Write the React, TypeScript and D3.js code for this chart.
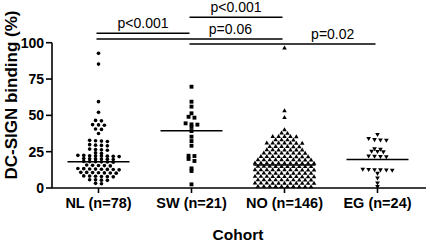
import React from "react";
import * as d3 from "d3";

const categories = ["NL (n=78)", "SW (n=21)", "NO (n=146)", "EG (n=24)"];

const nlValues = [
  92.7, 85.3, 59.4, 52.1,
  46.5, 46.2, 43.6, 43.4, 43.2, 40.6, 40.3, 37.5,
  32.8, 32.5, 32.3, 32.0, 29.8, 29.5, 29.3, 29.0,
  26.8, 26.5, 26.3, 26.0, 24.2, 23.8,
  22.5, 22.4, 22.2, 22.1, 22.0, 21.9, 21.8, 21.6,
  20.3, 20.1, 20.0, 19.9, 19.8, 19.6,
  18.3, 18.2, 18.1, 18.0, 17.9, 17.7,
  15.8, 15.6, 15.5, 15.4, 15.2,
  13.4, 13.3, 13.1, 13.0, 12.9, 12.8, 12.7, 12.5,
  10.8, 10.7, 10.6, 10.5, 10.4, 10.3, 10.2,
  8.3, 8.2, 8.1, 7.9, 7.8, 7.7,
  5.7, 5.6, 5.4, 5.3,
  3.2, 2.9,
];

const swValues = [
  69.7, 59.4, 56.0, 51.4, 49.0, 48.4, 44.5, 43.8, 43.6, 42.0, 39.2,
  35.3, 32.3, 29.1, 22.2, 22.0, 20.0, 18.6, 13.5, 11.7, 2.5,
];

const noValues = [
  96.3, 53.0, 48.4,
  40.0,
  37.7, 37.5,
  35.4, 35.3, 35.2, 35.3, 35.4,
  33.1, 33.0, 32.9, 33.0,
  30.9, 30.8, 30.7, 30.8, 30.9, 30.7, 30.8,
  28.5, 28.4, 28.3, 28.4, 28.5, 28.3,
  26.2, 26.1, 26.0, 26.1, 26.2, 26.0, 26.1,
  24.0, 23.9, 23.8, 23.9, 24.0, 23.8, 23.9, 24.0,
  21.6, 21.5, 21.4, 21.5, 21.6, 21.4, 21.5, 21.6, 21.4,
  19.4, 19.3, 19.2, 19.3, 19.4, 19.2, 19.3, 19.4, 19.2, 19.3,
  17.1, 17.0, 16.9, 17.0, 17.1, 16.9, 17.0, 17.1, 16.9, 17.0, 17.0,
  14.8, 14.7, 14.6, 14.7, 14.8, 14.6, 14.7, 14.8, 14.6, 14.7,
  12.5, 12.4, 12.3, 12.4, 12.5, 12.3, 12.4, 12.5, 12.3, 12.4, 12.4,
  10.2, 10.1, 10.0, 10.1, 10.2, 10.0, 10.1, 10.2, 10.0, 10.1,
  7.9, 7.8, 7.7, 7.8, 7.9, 7.7, 7.8, 7.9, 7.7, 7.8, 7.8,
  5.6, 5.5, 5.4, 5.5, 5.6, 5.4, 5.5, 5.6, 5.4, 5.5,
  3.3, 3.2, 3.1, 3.2, 3.3, 3.1, 3.2, 3.3, 3.1, 3.2, 3.2,
  1.0, 0.9, 0.8, 0.9, 1.0, 0.8, 0.9, 1.0, 0.8, 0.9,
];

const egValues = [
  37.0, 34.2, 33.4, 33.2, 33.0, 27.2, 26.8, 25.4, 25.2, 25.0,
  22.2, 22.0, 21.8, 21.6, 13.0, 12.8, 12.7, 12.6, 12.5, 12.4,
  10.2, 7.0, 3.6, 1.2,
];

const groupValues = [nlValues, swValues, noValues, egValues];
const centerLines = [18.1, 39.4, 15.8, 19.7];
const yTicks = [0, 25, 50, 75, 100];

const comparisonFrom = [0, 1, 0, 1];
const comparisonTo = [1, 2, 2, 3];
const comparisonLabels = ["p<0.001", "p<0.001", "p=0.06", "p=0.02"];
const comparisonLevels = [106.5, 117.5, 102.5, 99.1];
const comparisonLabelAt = [0.5, 0.5, 0.72, 0.77];

const W = 430;
const H = 244;
const M = { left: 52, right: 6, top: 42.7, bottom: 56 };
const FONT = "'Liberation Sans', Arial, Helvetica, sans-serif";

const shapes = [
  { type: d3.symbolCircle, size: 10.5, rotate: 0 },
  { type: d3.symbolSquare, size: 15, rotate: 0 },
  { type: d3.symbolTriangle, size: 9, rotate: 0 },
  { type: d3.symbolTriangle, size: 9.5, rotate: 180 },
];

function layoutRows(values: number[], y: (v: number) => number, cx: number, spacing: number) {
  const sorted = [...values].sort((a, b) => b - a);
  const rows: number[][] = [];
  let start = -Infinity;
  for (const v of sorted) {
    const py = y(v);
    if (rows.length === 0 || py - start > 2.4) {
      rows.push([v]);
      start = py;
    } else {
      rows[rows.length - 1].push(v);
    }
  }
  const pts: { x: number; y: number }[] = [];
  rows.forEach((row) => {
    const n = row.length;
    row.forEach((v, i) => {
      pts.push({ x: cx + (i - (n - 1) / 2) * spacing, y: y(v) });
    });
  });
  return pts;
}

export default function App() {
  const x = d3.scaleBand<string>().domain(categories).range([M.left, 424]).padding(0);
  const y = d3.scaleLinear().domain([0, 100]).range([188, M.top]);
  const cx = (i: number) => (x(categories[i]) as number) + x.bandwidth() / 2;

  return (
    <svg
      width={W}
      height={H}
      style={{ position: "absolute", left: 0, top: 0, background: "#fff" }}
      fontFamily={FONT}
    >
      {/* markers */}
      {groupValues.map((vals, gi) => {
        const s = shapes[gi];
        const path = d3.symbol().type(s.type).size(s.size)() as string;
        const pts = layoutRows(vals, y, cx(gi), 5.9);
        return (
          <g key={gi}>
            {pts.map((p, i) => (
              <path
                key={i}
                d={path}
                fill="#000"
                transform={`translate(${p.x},${p.y}) rotate(${s.rotate})`}
              />
            ))}
          </g>
        );
      })}

      {/* center lines */}
      {centerLines.map((v, i) => (
        <line
          key={i}
          x1={cx(i) - 31}
          x2={cx(i) + 31}
          y1={y(v)}
          y2={y(v)}
          stroke="#000"
          strokeWidth={1.5}
        />
      ))}

      {/* axes */}
      <line x1={M.left} x2={M.left} y1={y(100)} y2={y(0)} stroke="#000" strokeWidth={1.6} />
      <line x1={M.left} x2={426} y1={y(0)} y2={y(0)} stroke="#000" strokeWidth={1.6} />
      {yTicks.map((t) => (
        <g key={t}>
          <line x1={M.left - 6} x2={M.left} y1={y(t)} y2={y(t)} stroke="#000" strokeWidth={1.6} />
          <text
            x={M.left - 8}
            y={y(t)}
            dy="0.36em"
            textAnchor="end"
            fontSize={14}
            fontWeight="bold"
          >
            {t}
          </text>
        </g>
      ))}
      {categories.map((c, i) => (
        <g key={c}>
          <line x1={cx(i)} x2={cx(i)} y1={y(0)} y2={y(0) + 5} stroke="#000" strokeWidth={1.6} />
          <text x={cx(i)} y={208} textAnchor="middle" fontSize={14.5} fontWeight="bold">
            {c}
          </text>
        </g>
      ))}

      {/* axis titles */}
      <text x={238} y={240} textAnchor="middle" fontSize={15.5} fontWeight="bold">
        Cohort
      </text>
      <text
        transform={`translate(17,95) rotate(-90)`}
        textAnchor="middle"
        fontSize={17}
        fontWeight="bold"
      >
        DC-SIGN binding (%)
      </text>

      {/* comparisons */}
      {comparisonLabels.map((lab, i) => {
        const x1 = cx(comparisonFrom[i]) - 2;
        const x2 = cx(comparisonTo[i]) - 2;
        const ly = y(comparisonLevels[i]);
        const lx = x1 + (x2 - x1) * comparisonLabelAt[i];
        return (
          <g key={i}>
            <line x1={x1} x2={x2} y1={ly} y2={ly} stroke="#000" strokeWidth={1.5} />
            <text x={lx} y={ly - 5} textAnchor="middle" fontSize={14}>
              {lab}
            </text>
          </g>
        );
      })}
    </svg>
  );
}
